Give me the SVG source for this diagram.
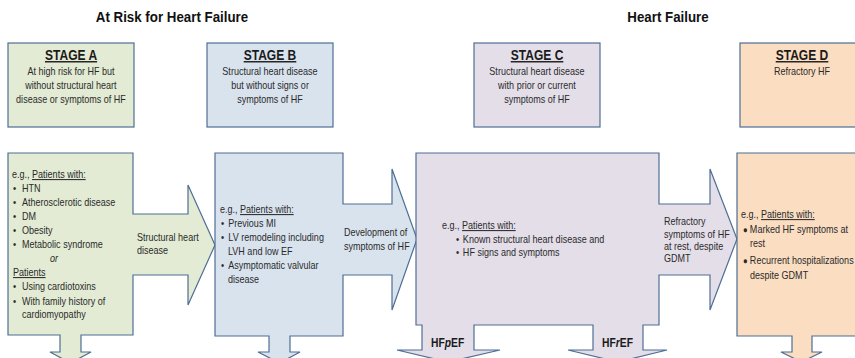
<svg xmlns="http://www.w3.org/2000/svg" width="855" height="358" viewBox="0 0 855 358">
<style>
text{font-family:"Liberation Sans",Arial,sans-serif;fill:#2a2a2a;font-size:10.5px;transform-box:fill-box;transform-origin:0 50%;transform:scaleX(.86)}
.title{font-weight:bold;font-size:15.5px;fill:#111;text-anchor:middle;transform-origin:50% 50%}
.stage{font-weight:bold;font-size:14px;fill:#1a1a1a;text-anchor:middle;text-decoration:underline;transform-origin:50% 50%}
.c{text-anchor:middle;transform-origin:50% 50%}
.u{text-decoration:underline}
.hf{font-weight:bold;font-size:12px;fill:#1a1a1a}
.sh{stroke:#4e6e94;stroke-width:1.2}
.a{fill:#e3ebd4}.b{fill:#d9e3ee}.cc{fill:#e4dee9}.d{fill:#fbddc2}
</style>
<text class="title" x="172" y="22">At Risk for Heart Failure</text>
<text class="title" x="668" y="22">Heart Failure</text>

<g id="stageA">
<rect class="sh a" x="8" y="43" width="126" height="84"/>
<text class="stage" x="71" y="60">STAGE A</text>
<text class="c" x="71" y="75">At high risk for HF but</text>
<text class="c" x="71" y="89">without structural heart</text>
<text class="c" x="71" y="103">disease or symptoms of HF</text>
<path class="sh a" d="M8,153 H133 V214 H188 V185 L215,245 L188,305 V275 H133 V335 H81 V352 H91 L70.5,363 L50,352 H60 V335 H8 Z"/>
<text x="12" y="178">e.g., <tspan class="u">Patients with:</tspan></text>
<text x="13" y="192">•<tspan x="23.5">HTN</tspan></text>
<text x="13" y="206">•<tspan x="23.5">Atherosclerotic disease</tspan></text>
<text x="13" y="220">•<tspan x="23.5">DM</tspan></text>
<text x="13" y="234">•<tspan x="23.5">Obesity</tspan></text>
<text x="13" y="248">•<tspan x="23.5">Metabolic syndrome</tspan></text>
<text x="50" y="262" font-style="italic">or</text>
<text x="13" y="276" class="u">Patients</text>
<text x="13" y="290">•<tspan x="23.5">Using cardiotoxins</tspan></text>
<text x="13" y="305">•<tspan x="23.5">With family history of</tspan></text>
<text x="22" y="318">cardiomyopathy</text>
</g>

<g id="stageB">
<rect class="sh b" x="207" y="43" width="126" height="84"/>
<text class="stage" x="270" y="60">STAGE B</text>
<text class="c" x="270" y="75">Structural heart disease</text>
<text class="c" x="270" y="89">but without signs or</text>
<text class="c" x="270" y="103">symptoms of HF</text>
<path class="sh b" d="M215,153 H343 V204 H392 V169 L417,239 L392,310 V275 H343 V336 H290 V352 H300 L279.5,363 L258,352 H269 V336 H215 Z"/>
<text x="220" y="213">e.g., <tspan class="u">Patients with:</tspan></text>
<text x="221" y="227">•<tspan x="229.5">Previous MI</tspan></text>
<text x="221" y="241">•<tspan x="229.5">LV remodeling including</tspan></text>
<text x="228" y="255">LVH and low EF</text>
<text x="221" y="269">•<tspan x="229.5">Asymptomatic valvular</tspan></text>
<text x="228" y="283">disease</text>
</g>

<g id="stageC">
<rect class="sh cc" x="474" y="43" width="126" height="84"/>
<text class="stage" x="537" y="60">STAGE C</text>
<text class="c" x="537" y="75">Structural heart disease</text>
<text class="c" x="537" y="89">with prior or current</text>
<text class="c" x="537" y="103">symptoms of HF</text>
<path class="sh cc" d="M416,153 H659 V204 H710 V169 L737,239 L710,310 V275 H659 V325 H643 V350 H667 L618,362 L568,350 H593 V325 H474 V350 H500 L448,362 L397,350 H422 V325 H416 Z"/>
<text x="442" y="229">e.g., <tspan class="u">Patients with:</tspan></text>
<text x="456" y="243">•<tspan x="464">Known structural heart disease and</tspan></text>
<text x="456" y="256">•<tspan x="464">HF signs and symptoms</tspan></text>
<text class="hf" x="431" y="347">HF<tspan font-style="italic">p</tspan>EF</text>
<text class="hf" x="602" y="347">HF<tspan font-style="italic">r</tspan>EF</text>
</g>

<g id="stageD">
<rect class="sh d" x="740" y="43" width="120" height="84"/>
<text class="stage" x="802" y="60">STAGE D</text>
<text class="c" x="802" y="75">Refractory HF</text>
<path class="sh d" d="M737,153 H862 V336 H812 V352 H822 L801.5,362 L781,352 H792 V336 H737 Z"/>
<text x="741" y="218">e.g., <tspan class="u">Patients with:</tspan></text>
<text x="743" y="233"><tspan font-size="9">●</tspan><tspan x="751">Marked HF symptoms at</tspan></text>
<text x="750" y="247">rest</text>
<text x="743" y="264"><tspan font-size="9">●</tspan><tspan x="751">Recurrent hospitalizations</tspan></text>
<text x="750" y="279">despite GDMT</text>
</g>

<g id="connectors">
<text x="137" y="241">Structural heart</text>
<text x="137" y="254">disease</text>
<text x="344" y="236">Development of</text>
<text x="344" y="250">symptoms of HF</text>
<text x="664" y="225">Refractory</text>
<text x="664" y="238">symptoms of HF</text>
<text x="664" y="250">at rest, despite</text>
<text x="664" y="262">GDMT</text>
</g>
</svg>
